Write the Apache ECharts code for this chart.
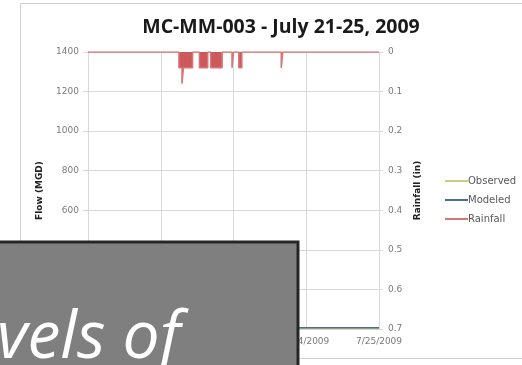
<!DOCTYPE html>
<html>
<head>
<meta charset="utf-8">
<script src="https://cdn.jsdelivr.net/npm/echarts@6/dist/echarts.min.js"></script>
<style>
  html, body { margin: 0; padding: 0; background: #fff; }
  #chart { width: 522px; height: 365px; }
</style>
</head>
<body>
<div id="chart"></div>
<script>
// Station MC-MM-003, storm of July 21-25, 2009
const titleText = 'MC-MM-003 - July 21-25, 2009';
const dayTicks = ['2009-07-21', '2009-07-22', '2009-07-23', '2009-07-24', '2009-07-25'];
const flowTicks = [0, 200, 400, 600, 800, 1000, 1200, 1400];
const rainTicks = [0, 0.1, 0.2, 0.3, 0.4, 0.5, 0.6, 0.7];

// Flow (MGD)
const observedTimes = ['2009-07-21 00:00', '2009-07-22 00:00', '2009-07-23 00:00', '2009-07-24 00:00', '2009-07-25 00:00'];
const observedFlow = [3, 3, 4, 3, 3];
const modeledTimes = ['2009-07-21 00:00', '2009-07-22 00:00', '2009-07-23 00:00', '2009-07-24 00:00', '2009-07-25 00:00'];
const modeledFlow = [6, 6, 7, 6, 6];

// Rainfall (in), each value holds until the next time
const rainTimes = [
  '2009-07-21 00:00', '2009-07-22 06:00', '2009-07-22 07:00', '2009-07-22 07:30',
  '2009-07-22 10:30', '2009-07-22 12:45', '2009-07-22 15:30', '2009-07-22 16:30',
  '2009-07-22 20:15', '2009-07-22 23:30', '2009-07-23 00:00', '2009-07-23 01:45',
  '2009-07-23 02:45', '2009-07-23 15:45', '2009-07-23 16:15', '2009-07-25 00:00'
];
const rainValues = [0, 0.04, 0.08, 0.04, 0, 0.04, 0, 0.04, 0, 0.04, 0, 0.04, 0, 0.04, 0, 0];

function toMs(s) {
  const [d, t] = s.split(' ');
  const [y, m, day] = d.split('-').map(Number);
  const [hh, mm] = (t || '00:00').split(':').map(Number);
  return Date.UTC(y, m - 1, day, hh, mm);
}
function pairs(times, vals) { return times.map((t, i) => [toMs(t), vals[i]]); }

const DAY = 86400000;
const xMin = toMs(dayTicks[0]);
const xMax = toMs(dayTicks[dayTicks.length - 1]);

const gridColor = '#d9d9d9';
const labelStyle = { color: '#7a7a7a', fontSize: 9, fontFamily: 'DejaVu Sans, sans-serif' };
const axisNameStyle = { fontFamily: 'DejaVu Sans, sans-serif', fontWeight: 'bold', fontSize: 9, color: '#222' };

const chart = echarts.init(document.getElementById('chart'), null, { renderer: 'canvas' });
chart.setOption({
  animation: false,
  backgroundColor: '#fff',
  title: {
    text: titleText,
    left: 276, top: 12, textAlign: 'center',
    textStyle: { fontFamily: 'Open Sans, sans-serif', fontWeight: 'bold', fontSize: 19.5, color: '#1a1a1a' }
  },
  legend: {
    orient: 'vertical', left: 440, top: 171, itemGap: 9,
    itemWidth: 23, itemHeight: 2, icon: 'rect',
    textStyle: { color: '#595959', fontSize: 10, fontFamily: 'DejaVu Sans, sans-serif', padding: [0, 0, 0, -5] },
    data: ['Observed', 'Modeled', 'Rainfall']
  },
  grid: { left: 88, right: 143, top: 52, bottom: 36, containLabel: false },
  xAxis: {
    type: 'value', min: xMin, max: xMax, interval: DAY,
    axisLine: { show: true, lineStyle: { color: gridColor } },
    axisTick: { show: false },
    splitLine: { show: true, lineStyle: { color: gridColor } },
    axisLabel: {
      ...labelStyle, margin: 8,
      formatter: v => { const d = new Date(v); return (d.getUTCMonth() + 1) + '/' + d.getUTCDate() + '/' + d.getUTCFullYear(); }
    }
  },
  yAxis: [
    {
      type: 'value', min: flowTicks[0], max: flowTicks[flowTicks.length - 1], interval: 200,
      name: 'Flow (MGD)', nameLocation: 'middle', nameGap: 44, nameRotate: 90,
      nameTextStyle: axisNameStyle,
      axisLine: { show: true, lineStyle: { color: gridColor } },
      axisTick: { show: true, length: 5, lineStyle: { color: gridColor } },
      splitLine: { show: true, lineStyle: { color: gridColor } },
      axisLabel: { ...labelStyle, margin: 9, formatter: v => String(v) }
    },
    {
      type: 'value', min: rainTicks[0], max: rainTicks[rainTicks.length - 1], interval: 0.1, inverse: true,
      name: 'Rainfall (in)', nameLocation: 'middle', nameGap: 33, nameRotate: 90,
      nameTextStyle: axisNameStyle,
      axisLine: { show: true, lineStyle: { color: gridColor } },
      axisTick: { show: true, length: 4, lineStyle: { color: gridColor } },
      splitLine: { show: false },
      axisLabel: { ...labelStyle, margin: 9, formatter: v => String(Math.round(v * 10) / 10) }
    }
  ],
  series: [
    {
      name: 'Observed', type: 'line', yAxisIndex: 0, symbol: 'none',
      data: pairs(observedTimes, observedFlow),
      lineStyle: { color: '#c9cf7e', width: 1.5 }, itemStyle: { color: '#c9cf7e' }
    },
    {
      name: 'Modeled', type: 'line', yAxisIndex: 0, symbol: 'none',
      data: pairs(modeledTimes, modeledFlow),
      lineStyle: { color: '#4a6f8f', width: 1.5 }, itemStyle: { color: '#4a6f8f' }
    },
    {
      name: 'Rainfall', type: 'line', yAxisIndex: 1, symbol: 'none', step: 'end',
      data: pairs(rainTimes, rainValues),
      lineStyle: { color: '#d77577', width: 1.5 }, itemStyle: { color: '#d77577' },
      areaStyle: { color: '#c9474b', opacity: 0.9 }
    }
  ],
  graphic: [
    {
      type: 'rect', z: 0, silent: true,
      shape: { x: 20.5, y: 3.5, width: 520, height: 355 },
      style: { fill: null, stroke: '#d0d0d0', lineWidth: 1 }
    },
    {
      type: 'rect', z: 100, silent: true,
      shape: { x: -10, y: 242, width: 308, height: 140 },
      style: { fill: '#7f7f7f', stroke: '#262626', lineWidth: 3 }
    },
    {
      type: 'text', z: 101, silent: true,
      x: -3, y: 306,
      style: {
        text: 'vels of', fill: '#ffffff',
        font: 'italic 66px "Open Sans", sans-serif',
        verticalAlign: 'top'
      }
    }
  ]
});
</script>
</body>
</html>
